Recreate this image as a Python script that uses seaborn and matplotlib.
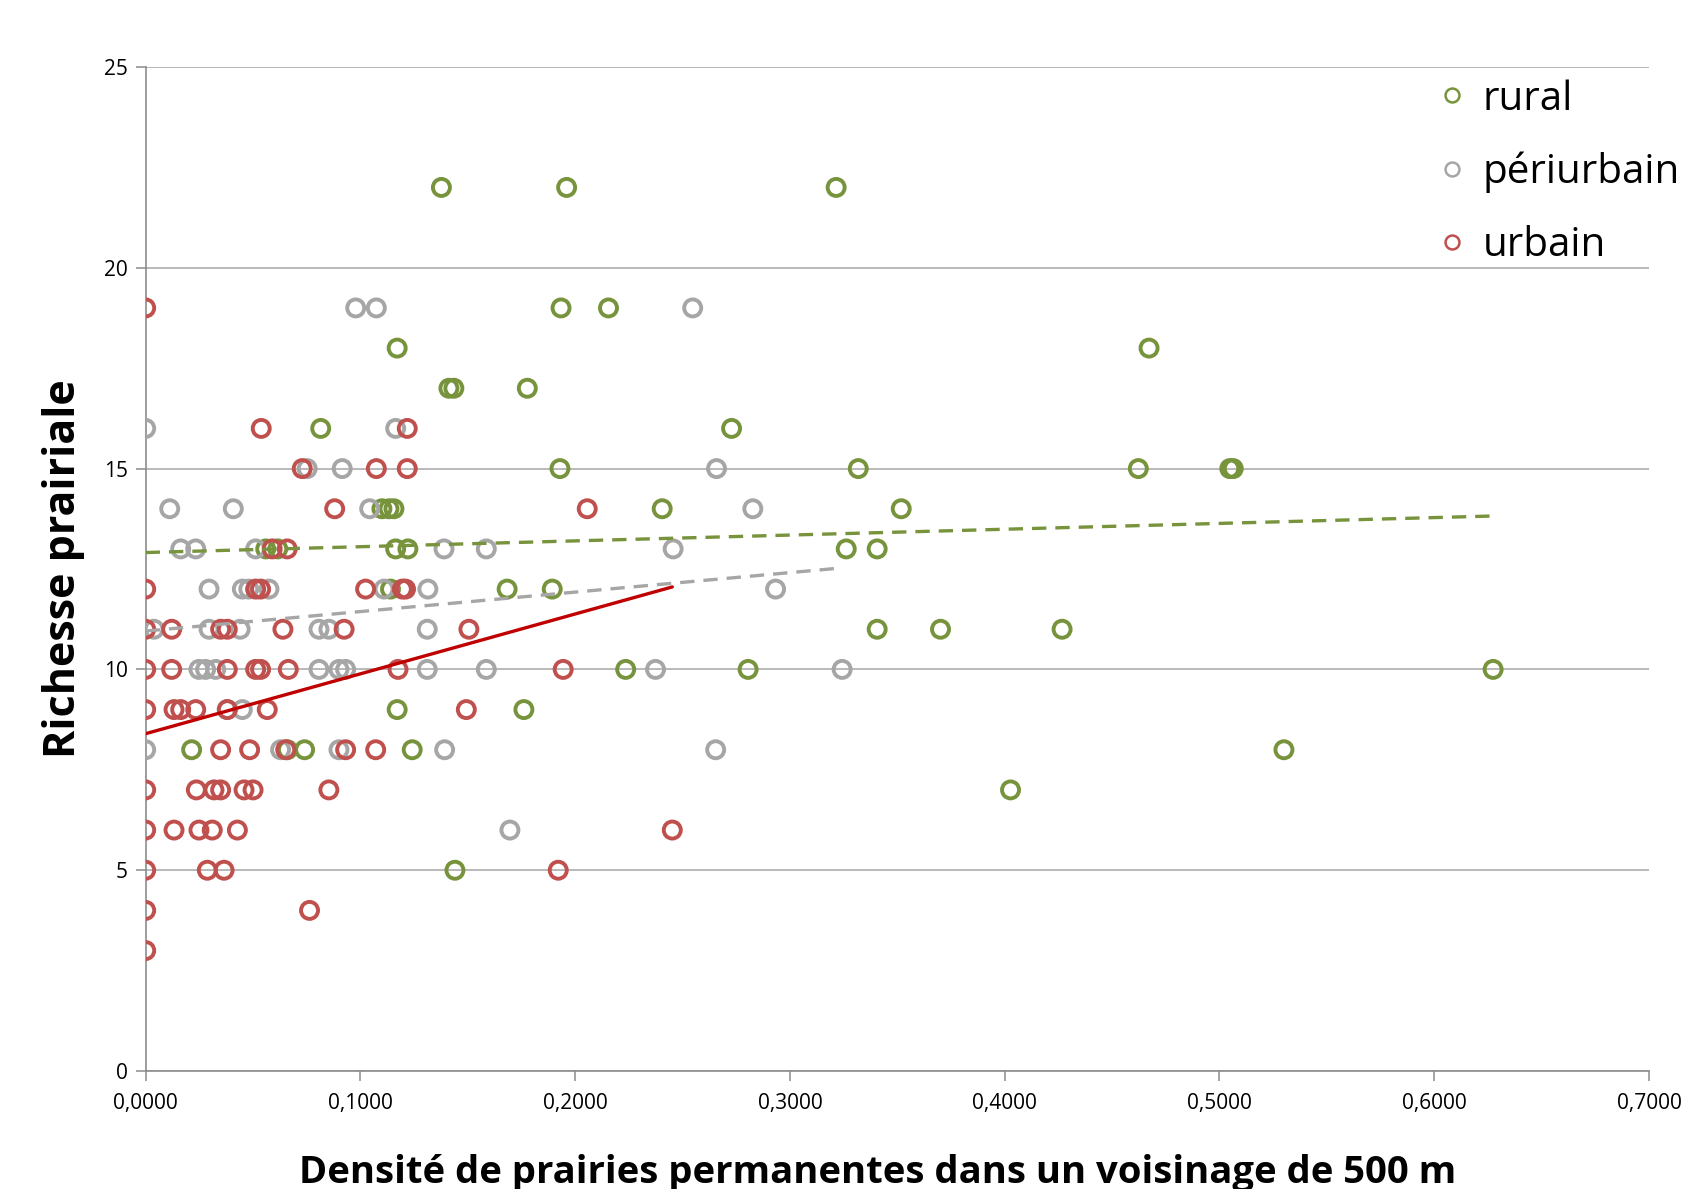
"""
Richesse prairiale vs densité de prairies permanentes (500 m), par type de paysage.
"""
import matplotlib

matplotlib.use("Agg")
import matplotlib.pyplot as plt
import numpy as np
import pandas as pd
import seaborn as sns
from matplotlib import font_manager
from matplotlib.lines import Line2D
from matplotlib.ticker import FuncFormatter, MultipleLocator

# rural
rural_x = [0.1377, 0.1960, 0.3215,
           0.1934, 0.2155,
           0.1171, 0.4672,
           0.1412, 0.1435, 0.1777,
           0.0815, 0.2728,
           0.1929, 0.3318, 0.4622, 0.5048, 0.5064,
           0.1100, 0.1133, 0.1156, 0.2405, 0.3518,
           0.0559, 0.0615, 0.1164, 0.1221, 0.3262, 0.3406,
           0.1140, 0.1683, 0.1893,
           0.3406, 0.3701, 0.4267,
           0.2235, 0.2805, 0.6274,
           0.1171, 0.1761,
           0.0214, 0.0660, 0.0740, 0.1241, 0.5300,
           0.4027,
           0.1440]
rural_y = [22, 22, 22,
           19, 19,
           18, 18,
           17, 17, 17,
           16, 16,
           15, 15, 15, 15, 15,
           14, 14, 14, 14, 14,
           13, 13, 13, 13, 13, 13,
           12, 12, 12,
           11, 11, 11,
           10, 10, 10,
           9, 9,
           8, 8, 8, 8, 8,
           7,
           5]

# périurbain
peri_x = [0.0978, 0.1074, 0.2547,
          0.0000, 0.1164,
          0.0752, 0.0915, 0.2658,
          0.0112, 0.0408, 0.1043, 0.2827,
          0.0163, 0.0233, 0.0512, 0.1389, 0.1586, 0.2456,
          0.0295, 0.0450, 0.0480, 0.0574, 0.1110, 0.1314, 0.2933,
          0.0039, 0.0295, 0.0440, 0.0807, 0.0853, 0.1311,
          0.0248, 0.0279, 0.0326, 0.0807, 0.0900, 0.0931, 0.1311, 0.1586,
          0.2374, 0.3243,
          0.0380, 0.0450,
          0.0000, 0.0628, 0.0900, 0.1392, 0.2654,
          0.1696]
peri_y = [19, 19, 19,
          16, 16,
          15, 15, 15,
          14, 14, 14, 14,
          13, 13, 13, 13, 13, 13,
          12, 12, 12, 12, 12, 12, 12,
          11, 11, 11, 11, 11, 11,
          10, 10, 10, 10, 10, 10, 10, 10,
          10, 10,
          9, 9,
          8, 8, 8, 8, 8,
          6]

# urbain
urb_x = [0.0000,
         0.0538, 0.1218,
         0.0729, 0.1074, 0.1218,
         0.0880, 0.2056,
         0.0589, 0.0659,
         0.0000, 0.0512, 0.0535, 0.1024, 0.1195, 0.1210,
         0.0000, 0.0121, 0.0349, 0.0380, 0.0639, 0.0924, 0.1505,
         0.0000, 0.0121, 0.0380, 0.0512, 0.0535, 0.0664, 0.1175, 0.1944,
         0.0000, 0.0132, 0.0163, 0.0233, 0.0380, 0.0566, 0.1493,
         0.0349, 0.0484, 0.0652, 0.0931, 0.1071,
         0.0000, 0.0236, 0.0318, 0.0349, 0.0458, 0.0500, 0.0853,
         0.0000, 0.0132, 0.0248, 0.0310, 0.0427, 0.2452,
         0.0000, 0.0287, 0.0365, 0.1921,
         0.0000, 0.0763,
         0.0000]
urb_y = [19,
         16, 16,
         15, 15, 15,
         14, 14,
         13, 13,
         12, 12, 12, 12, 12, 12,
         11, 11, 11, 11, 11, 11, 11,
         10, 10, 10, 10, 10, 10, 10, 10,
         9, 9, 9, 9, 9, 9, 9,
         8, 8, 8, 8, 8,
         7, 7, 7, 7, 7, 7, 7,
         6, 6, 6, 6, 6, 6,
         5, 5, 5, 5,
         4, 4,
         3]

# linear trend lines (intercept, slope)
trend_rural = (12.91, 1.45)
trend_peri = (10.955, 4.85)
trend_urb = (8.40, 14.9)

labels = ["rural", "périurbain", "urbain"]
colors = ["#77933C", "#A6A6A6", "#C0504D"]

x_ticks = [0.0, 0.1, 0.2, 0.3, 0.4, 0.5, 0.6, 0.7]

df = pd.concat([
    pd.DataFrame({"x": rural_x, "y": rural_y, "zone": "rural"}),
    pd.DataFrame({"x": peri_x, "y": peri_y, "zone": "périurbain"}),
    pd.DataFrame({"x": urb_x, "y": urb_y, "zone": "urbain"}),
])

sns.set_theme(style="white")
names = {f.name for f in font_manager.fontManager.ttflist}
tick_font = "Liberation Sans Narrow" if "Liberation Sans Narrow" in names else "Open Sans"
plt.rcParams["font.family"] = ["Open Sans", "DejaVu Sans"]
plt.rcParams["text.color"] = "black"

fig = plt.figure(figsize=(16.92, 11.89), dpi=100)
ax = fig.add_axes([0.0861, 0.0992, 0.8885, 0.8445])

for zone, c in zip(labels, colors):
    sns.scatterplot(
        data=df[df["zone"] == zone], x="x", y="y", ax=ax,
        color=c, facecolor="none", edgecolor=c,
        s=150, linewidth=2.8, zorder=3, legend=False,
    )

# trend lines
for (b0, b1), xs, c, ls in [
    (trend_rural, rural_x, colors[0], (0, (4.3, 2.7))),
    (trend_peri, peri_x, colors[1], (0, (4.3, 2.7))),
    (trend_urb, urb_x, "#C00000", "-"),
]:
    xx = np.array([0.0, max(xs)])
    ax.plot(xx, b0 + b1 * xx, color=c, lw=2.4, ls=ls, zorder=4)

ax.set_xlim(0, 0.7)
ax.set_ylim(0, 25)
ax.set_xticks(x_ticks)
ax.yaxis.set_major_locator(MultipleLocator(5))
ax.xaxis.set_major_formatter(FuncFormatter(lambda v, p: f"{v:.4f}".replace(".", ",")))

ax.yaxis.grid(True, color="#ADADAD", lw=1.2)
ax.xaxis.grid(False)
ax.set_axisbelow(True)
for s in ["top", "right"]:
    ax.spines[s].set_visible(False)
for s in ["left", "bottom"]:
    ax.spines[s].set_color("#8C8C8C")
    ax.spines[s].set_linewidth(1.2)

ax.tick_params(axis="both", direction="out", length=7, width=1.1, color="#8C8C8C",
               labelsize=15, labelcolor="black")
ax.tick_params(axis="x", bottom=True, pad=9)
ax.tick_params(axis="y", left=True, pad=6)
for lab in ax.get_xticklabels() + ax.get_yticklabels():
    lab.set_family(tick_font)

ax.set_ylabel("Richesse prairiale", fontsize=31, fontweight="bold", va="center",
              color="black")
ax.yaxis.set_label_coords(-0.0545, 0.5)
ax.set_xlabel("Densité de prairies permanentes dans un voisinage de 500 m",
              fontsize=27.5, fontweight="bold", va="top", color="black")
ax.xaxis.set_label_coords(0.487, -0.083)

handles = [Line2D([], [], ls="none", marker="o", ms=10, mfc="none", mec=c, mew=1.8)
           for c in colors]
ax.legend(handles, labels, loc="upper left", bbox_to_anchor=(1440 / 1692, 1 - 79 / 1189),
          bbox_transform=fig.transFigure, frameon=False, fontsize=29,
          handlelength=0.6, handletextpad=0.45, labelspacing=0.8,
          borderpad=0, borderaxespad=0)

fig.savefig("out.png", dpi=100)
